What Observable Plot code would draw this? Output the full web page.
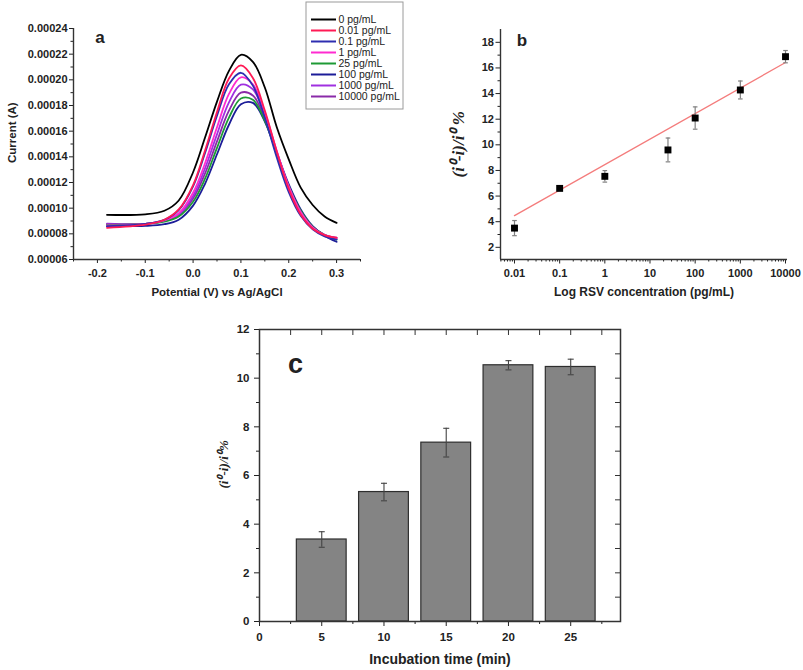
<!DOCTYPE html>
<html><head><meta charset="utf-8">
<script src="https://cdn.jsdelivr.net/npm/d3@7"></script>
<script src="https://cdn.jsdelivr.net/npm/@observablehq/plot@0.6"></script>
<style>
html,body{margin:0;padding:0;background:#fff;}
#wrap{position:relative;width:803px;height:670px;overflow:hidden;background:#fff;}
</style></head><body><div id="wrap"></div>
<script>
// ---------- Panel a: DPV curves (current in units of 1e-5 A) ----------
const potentials = [-0.18,-0.1,-0.06,-0.03,0,0.025,0.05,0.075,0.1,0.125,0.15,0.175,0.2,0.225,0.25,0.275,0.3];
const concLabels = ["0 pg/mL","0.01 pg/mL","0.1 pg/mL","1 pg/mL","25 pg/mL","100 pg/mL","1000 pg/mL","10000 pg/mL"];
const concColors = ["#000000","#ff1a55","#2e2eb0","#ff2bd0","#1e9a35","#1c1c98","#a030e0","#8a2aa8"];
const current_0     = [9.48,9.52,9.8,10.6,12.8,15.5,18.3,20.7,21.95,21.4,19.4,16.3,13.8,11.6,10.25,9.35,8.85];
const current_0_01  = [8.47,8.72,9.1,9.9,11.8,14.5,17.5,20.1,21.12,20.15,17.6,14.4,11.5,9.5,8.4,7.9,7.7];
const current_0_1   = [8.6,8.78,9.1,9.85,11.7,14.3,17.2,19.65,20.55,19.55,17.05,13.95,11.25,9.4,8.35,7.8,7.55];
const current_1     = [8.65,8.78,9.05,9.6,11.2,13.5,16.3,18.9,20.2,19.65,17.45,14.45,11.7,9.7,8.5,7.9,7.65];
const current_25    = [8.7,8.78,8.95,9.35,10.5,12.3,14.7,17.05,18.55,18.45,16.8,14.25,11.7,9.8,8.55,7.9,7.55];
const current_100   = [8.6,8.62,8.75,9.1,10.2,11.9,14.2,16.5,18.1,18.2,16.75,14.3,11.85,9.9,8.6,7.85,7.38];
const current_1000  = [8.75,8.78,9.02,9.5,10.95,13.1,15.75,18.25,19.62,19.25,17.25,14.4,11.7,9.72,8.52,7.9,7.7];
const current_10000 = [8.8,8.78,9.0,9.45,10.75,12.7,15.2,17.6,19.0,18.78,16.95,14.25,11.68,9.73,8.55,7.92,7.65];
const yTicksA = [0.00006,0.00008,0.0001,0.00012,0.00014,0.00016,0.00018,0.0002,0.00022,0.00024];
const xTicksA = [-0.2,-0.1,0,0.1,0.2,0.3];

// ---------- Panel b: calibration ----------
const rsvConc = [0.01, 0.1, 1, 25, 100, 1000, 10000];
const rsvResp = [3.5, 6.6, 7.54, 9.6, 12.09, 14.28, 16.88];
const rsvErr  = [0.59, 0.1, 0.45, 0.93, 0.87, 0.7, 0.48];
const fitConc = [0.01, 10000];
const fitResp = [4.47, 16.42];
const yTicksB = [2,4,6,8,10,12,14,16,18];
const xTicksB = [0.01,0.1,1,10,100,1000,10000];

// ---------- Panel c: incubation time ----------
const incTime = [5, 10, 15, 20, 25];
const incResp = [3.37, 5.32, 7.35, 10.53, 10.46];
const incErr  = [0.32, 0.36, 0.59, 0.19, 0.32];
const yTicksC = [0,2,4,6,8,10,12];
const xTicksC = [0,5,10,15,20,25];

// ---------- build ----------
const wrap = document.getElementById("wrap");
const place = (el, left, top) => { el.style.position = "absolute"; el.style.left = left + "px"; el.style.top = top + "px"; wrap.appendChild(el); };
const baseStyle = {fontFamily: "'Liberation Sans', Arial, sans-serif", fontWeight: "bold", fontSize: "11px", color: "#222", background: "transparent", overflow: "visible"};
const capSymbol = {draw(ctx, size) { const w = Math.sqrt(size); ctx.moveTo(-w / 2, 0); ctx.lineTo(w / 2, 0); }};
const blank = () => "";

// panel a
const seriesA = [current_0, current_0_01, current_0_1, current_1, current_25, current_100, current_1000, current_10000];
const rowsA = seriesA.flatMap((arr, k) => arr.map((v, i) => ({E: potentials[i], I: v * 1e-5, c: concLabels[k], k})));
const yMinorA = d3.range(7, 24, 2).map(v => v * 1e-5);
const xMinorA = d3.range(-0.25, 0.36, 0.1).map(v => +v.toFixed(2));
const pa = Plot.plot({
  width: 400, height: 320, marginLeft: 73, marginRight: 40, marginTop: 28, marginBottom: 61,
  style: baseStyle,
  x: {domain: [-0.25, 0.35], label: null},
  y: {domain: [0.00006, 0.00024], label: null},
  color: {domain: concLabels, range: concColors},
  marks: [
    Plot.axisY({ticks: yTicksA, tickSize: 4, tickPadding: 2, tickFormat: d => d.toFixed(5), label: null}),
    Plot.axisY({ticks: yMinorA, tickSize: 2.5, tickFormat: blank, label: null}),
    Plot.axisX({ticks: xTicksA, tickSize: 4, tickPadding: 6, tickFormat: d => d.toFixed(1), label: null}),
    Plot.axisX({ticks: xMinorA, tickSize: 2.5, tickFormat: blank, label: null}),
    Plot.ruleX([-0.25], {stroke: "#333", strokeWidth: 1.4}),
    Plot.ruleY([0.00006], {stroke: "#333", strokeWidth: 1.4}),
    Plot.line(rowsA.slice().reverse(), {x: "E", y: "I", z: "c", stroke: "c", curve: "catmull-rom", strokeWidth: 1.8}),
    Plot.text(["Potential (V) vs Ag/AgCl"], {text: d => d, frameAnchor: "bottom", dy: 33, fontSize: 11.5, lineAnchor: "middle"}),
    Plot.text(["Current (A)"], {text: d => d, frameAnchor: "left", rotate: -90, dx: -61, dy: 19, fontSize: 11.5}),
    Plot.text(["a"], {text: d => d, frameAnchor: "top-left", dx: 26.5, dy: 9, fontSize: 17, textAnchor: "middle", lineAnchor: "middle"})
  ]
});
place(pa, 0, 0);

// panel b
const rowsB = rsvConc.map((c, i) => ({c, v: rsvResp[i], e: rsvErr[i]}));
const fitRows = fitConc.map((c, i) => ({c, v: fitResp[i]}));
const xMinorB = [];
for (let e = -3; e <= 4; e++) for (let m = 2; m <= 9; m++) { const v = m * Math.pow(10, e); if (v >= 0.0049 && v <= 11000) xMinorB.push(+v.toPrecision(3)); }
const pb = Plot.plot({
  width: 403, height: 320, marginLeft: 100, marginRight: 16, marginTop: 29, marginBottom: 61,
  style: baseStyle,
  x: {type: "log", domain: [0.0049, 11070], label: null},
  y: {domain: [1.05, 19], label: null},
  marks: [
    Plot.axisY({ticks: yTicksB, tickSize: 4.5, tickPadding: 2, tickFormat: d => String(d), label: null}),
    Plot.axisY({ticks: d3.range(3, 18, 2), tickSize: 2.5, tickFormat: blank, label: null}),
    Plot.axisX({ticks: xTicksB, tickSize: 4.5, tickPadding: 5, tickFormat: d => String(d), label: null}),
    Plot.axisX({ticks: xMinorB, tickSize: 2.5, tickFormat: blank, label: null}),
    Plot.ruleX([0.0049], {stroke: "#333", strokeWidth: 1.4}),
    Plot.ruleY([1.05], {stroke: "#333", strokeWidth: 1.4}),
    Plot.line(fitRows, {x: "c", y: "v", stroke: "#f47c7c", strokeWidth: 1.3}),
    Plot.ruleX(rowsB, {x: "c", y1: d => d.v - d.e, y2: d => d.v + d.e, stroke: "#808080", strokeWidth: 1.2}),
    Plot.dot(rowsB, {x: "c", y: d => d.v + d.e, symbol: capSymbol, r: 2.6, stroke: "#808080", fill: "none", strokeWidth: 1.2}),
    Plot.dot(rowsB, {x: "c", y: d => d.v - d.e, symbol: capSymbol, r: 2.6, stroke: "#808080", fill: "none", strokeWidth: 1.2}),
    Plot.dot(rowsB, {x: "c", y: "v", symbol: "square", r: 3.9, fill: "#000", stroke: "none"}),
    Plot.text(["Log RSV concentration (pg/mL)"], {text: d => d, frameAnchor: "bottom", dy: 33, fontSize: 12, lineAnchor: "middle"}),
    Plot.text(["(i\u2070-i)/i\u2070 %"], {text: d => d, frameAnchor: "left", rotate: -90, dx: -42, dy: 33, fontSize: 17, fontFamily: "'Liberation Serif', 'Times New Roman', serif", fontStyle: "italic", fontWeight: "bold"}),
    Plot.text(["b"], {text: d => d, frameAnchor: "top-left", dx: 21.5, dy: 11, fontSize: 17, textAnchor: "middle", lineAnchor: "middle"})
  ]
});
place(pb, 400, 0);

// panel c
const rowsC = incTime.map((t, i) => ({t, v: incResp[i], e: incErr[i]}));
const xMinorC = d3.range(2.5, 29, 5);
const topTicksC = d3.range(0, 29, 2.5);
const rightTicksC = d3.range(1, 12, 1);
const pc = Plot.plot({
  width: 450, height: 350, marginLeft: 79, marginRight: 10, marginTop: 9, marginBottom: 49,
  style: {...baseStyle, fontSize: "11.5px"},
  x: {domain: [0, 29], label: null},
  y: {domain: [0, 12], label: null},
  marks: [
    Plot.axisY({ticks: yTicksC, tickSize: 5, tickPadding: 5, tickFormat: d => String(d), label: null}),
    Plot.axisY({ticks: d3.range(1, 12, 2), tickSize: 3, tickFormat: blank, label: null}),
    Plot.axisX({ticks: xTicksC, tickSize: 5, tickPadding: 6, tickFormat: d => String(d), label: null}),
    Plot.axisX({ticks: xMinorC, tickSize: 3, tickFormat: blank, label: null}),
    Plot.ruleX(topTicksC, {stroke: "#333", insetBottom: 286}),
    Plot.ruleY(rightTicksC, {stroke: "#333", insetLeft: 356}),
    Plot.rectY(rowsC, {x1: d => d.t - 2, x2: d => d.t + 2, y: "v", fill: "#848484", stroke: "#2e2e2e", strokeWidth: 1.2}),
    Plot.ruleX(rowsC, {x: "t", y1: d => d.v - d.e, y2: d => d.v + d.e, stroke: "#444", strokeWidth: 1.1}),
    Plot.dot(rowsC, {x: "t", y: d => d.v + d.e, symbol: capSymbol, r: 3.4, stroke: "#444", fill: "none", strokeWidth: 1.1}),
    Plot.dot(rowsC, {x: "t", y: d => d.v - d.e, symbol: capSymbol, r: 3.4, stroke: "#444", fill: "none", strokeWidth: 1.1}),
    Plot.frame({stroke: "#333", strokeWidth: 1.5}),
    Plot.text(["Incubation time (min)"], {text: d => d, frameAnchor: "bottom", dy: 38, fontSize: 14, lineAnchor: "middle"}),
    Plot.text(["(i\u2070-i)/i\u2070%"], {text: d => d, frameAnchor: "left", rotate: -90, dx: -36, dy: 13, fontSize: 13, fontFamily: "'Liberation Serif', 'Times New Roman', serif", fontStyle: "italic", fontWeight: "bold"}),
    Plot.text(["c"], {text: d => d, frameAnchor: "top-left", dx: 36, dy: 34.5, fontSize: 27, textAnchor: "middle", lineAnchor: "middle"})
  ]
});
place(pc, 180, 320);

// legend for panel a
const legend = Plot.plot({
  width: 98, height: 108, marginLeft: 0, marginRight: 0, marginTop: 0, marginBottom: 0,
  style: {...baseStyle, fontWeight: "normal", fontSize: "10.5px"},
  x: {domain: [0, 98], range: [0, 98], axis: null},
  y: {type: "point", domain: concLabels, range: [10.5, 102], axis: null},
  color: {domain: concLabels, range: concColors},
  marks: [
    Plot.frame({stroke: "#9a9a9a", inset: 0.5}),
    Plot.ruleY(concLabels, {y: d => d, x1: 6, x2: 31, stroke: d => d, strokeWidth: 2}),
    Plot.text(concLabels, {y: d => d, x: 33, text: d => d, textAnchor: "start", fill: "#222"})
  ]
});
place(legend, 305, 1);
</script></body></html>
